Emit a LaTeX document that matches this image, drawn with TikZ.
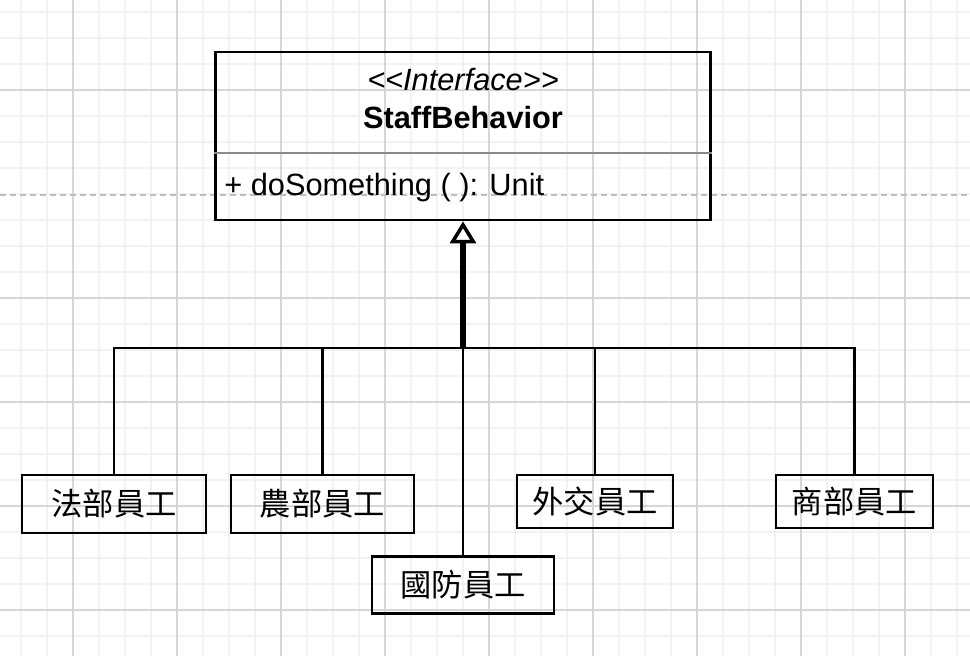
\documentclass[tikz,border=0pt]{standalone}
\usepackage{fontspec}
\newfontfamily\uifont{Liberation Sans}
\newfontfamily\cjk{Noto Sans CJK TC}
\usetikzlibrary{arrows.meta}
\definecolor{gridminor}{HTML}{F2F2F2}
\definecolor{gridmajor}{HTML}{D6D6D6}
\definecolor{pagebreak}{HTML}{BDBDBD}
\definecolor{divider}{HTML}{8A8A8A}
\definecolor{ink}{HTML}{000000}

\begin{document}
\begin{tikzpicture}[
  x=0.02cm,y=-0.02cm,
  txt/.style={inner sep=0pt,text=ink,font=\uifont\fontsize{17.5}{20}\selectfont},
  umlbox/.style={draw=ink,line width=1.6pt,minimum width=9.9cm,minimum height=3.36cm,inner sep=0pt},
  staffbox/.style={draw=ink,line width=1.6pt,minimum height=1.16cm,inner sep=0pt,text=ink,font=\cjk\fontsize{17.8}{20}\selectfont},
  link/.style={draw=ink,line width=1.6pt},
  inherit/.style={draw=ink,line width=3.4pt,-{Triangle[fill=white,length=0.44cm,width=0.52cm,line width=2pt]}}
]
  \useasboundingbox (0,0) rectangle (970,656);
  \fill[white] (0,0) rectangle (970,656);

  % grid
  \foreach \gx in {-5,21,...,975} \draw[gridminor,line width=0.6pt] (\gx,0) -- (\gx,656);
  \foreach \gy in {12,38,...,660} \draw[gridminor,line width=0.6pt] (0,\gy) -- (970,\gy);
  \foreach \gx in {-31,73,...,975} \draw[gridmajor,line width=0.6pt] (\gx,0) -- (\gx,656);
  \foreach \gy in {90,298,402,506,610} \draw[gridmajor,line width=0.6pt] (0,\gy) -- (970,\gy);
  \draw[pagebreak,line width=0.7pt,dash pattern=on 3.4pt off 2.3pt] (0,195) -- (970,195);

  \node[umlbox] (staff) at (463,136) {};
  \node[txt,font=\uifont\itshape\fontsize{17.5}{20}\selectfont] (stereo) at (463,80) {<<Interface>>};
  \node[txt,font=\uifont\bfseries\fontsize{17.5}{20}\selectfont] (name) at (463,118) {StaffBehavior};
  \draw[divider,line width=1.2pt] ([yshift=-0.34cm]staff.west) -- ([yshift=-0.34cm]staff.east);
  \node[txt,anchor=west] (method) at (224,188) {+ doSomething ( ): Unit};

  \node[staffbox,minimum width=3.68cm] (fa) at (114,504) {法部員工};
  \node[staffbox,minimum width=3.66cm] (nong) at (322.5,504) {農部員工};
  \node[staffbox,minimum width=3.64cm,minimum height=1.14cm] (guo) at (463,585) {國防員工};
  \node[staffbox,minimum width=3.12cm,minimum height=1.06cm] (wai) at (595,501.5) {外交員工};
  \node[staffbox,minimum width=3.14cm,minimum height=1.06cm] (shang) at (854.5,501.5) {商部員工};

  \coordinate (bus) at (463,348);
  \draw[link] (fa.north) |- (bus);
  \draw[link] (nong.north) |- (bus);
  \draw[link] (wai.north) |- (bus);
  \draw[link] (shang.north) |- (bus);
  \draw[link] (guo.north) -- (bus);
  \draw[inherit] (bus) -- (staff.south);
\end{tikzpicture}
\end{document}
